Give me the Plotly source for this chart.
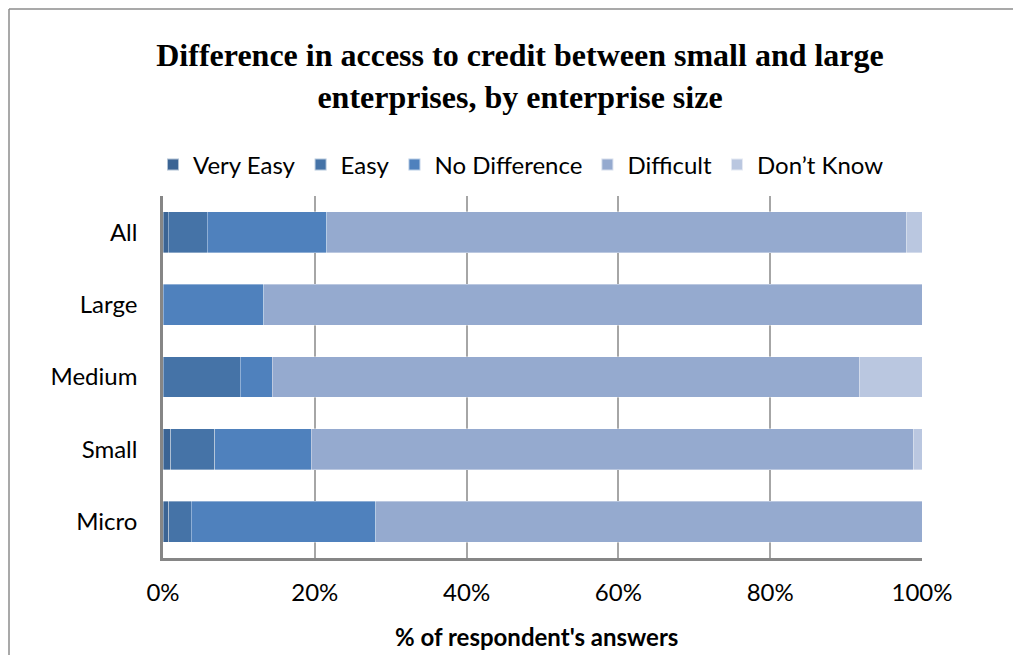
import plotly.graph_objects as go

categories = ["All", "Large", "Medium", "Small", "Micro"]
series_names = ["Very Easy", "Easy", "No Difference", "Difficult", "Don\u2019t Know"]
very_easy = [0.7, 0.0, 0.0, 1.05, 0.75]
easy = [5.1, 0.0, 10.2, 5.75, 3.0]
no_difference = [15.8, 13.3, 4.2, 12.7, 24.25]
difficult = [76.4, 86.7, 77.3, 79.4, 72.0]
dont_know = [2.0, 0.0, 8.3, 1.1, 0.0]
tick_vals = [0, 20, 40, 60, 80, 100]
tick_text = ["0%", "20%", "40%", "60%", "80%", "100%"]

colors = ["#3B6494", "#4573A7", "#4F81BD", "#95AACF", "#BAC7E0"]
values = [very_easy, easy, no_difference, difficult, dont_know]

# page body has an 8px margin; work in screen pixels and shift
OFF = 8
W, H = 1021 - OFF, 655 - OFF
L, R, T, B = 163 - OFF, 922 - OFF, 196 - OFF, 558 - OFF


def px_x(x):
    return ((x - OFF) - L) / (R - L)


def px_y(y):
    return (B - (y - OFF)) / (B - T)


fig = go.Figure()
for name, vals, col in zip(series_names, values, colors):
    fig.add_trace(go.Bar(
        y=categories, x=vals, name=name, orientation="h",
        marker=dict(color=col, line=dict(color="rgba(255,255,255,0.6)", width=0.6)),
        width=0.566,
    ))

font_main = "Lato, 'Open Sans', sans-serif"

fig.update_layout(
    width=W, height=H,
    barmode="stack",
    plot_bgcolor="white", paper_bgcolor="white",
    margin=dict(l=L, r=W - R, t=T, b=H - B, pad=0),
    title=dict(
        text="<b>Difference in access to credit between small and large<br>enterprises, by enterprise size</b>",
        x=(520 - OFF) / W, xanchor="center", y=1 - (66 - OFF) / H, yanchor="middle",
        font=dict(family="'Liberation Serif', 'Times New Roman', serif", size=32, color="black"),
    ),
    legend=dict(
        orientation="h", x=px_x(153), xanchor="left", y=px_y(165), yanchor="middle",
        font=dict(family=font_main, size=24, color="black"),
        traceorder="normal", itemsizing="constant", itemwidth=30,
        bgcolor="rgba(0,0,0,0)",
    ),
    xaxis=dict(
        range=[0, 100], tickvals=tick_vals, ticktext=tick_text,
        showgrid=True, gridcolor="#A6A6A6", gridwidth=1.5,
        showline=True, linecolor="#868686", linewidth=2.5,
        zeroline=False, ticks="", ticklabelstandoff=11,
        tickfont=dict(family=font_main, size=24, color="black"),
        mirror=False,
    ),
    yaxis=dict(
        categoryorder="array", categoryarray=categories, autorange="reversed",
        showline=True, linecolor="#868686", linewidth=2.5,
        showgrid=False, ticks="", ticklabelstandoff=18,
        tickfont=dict(family=font_main, size=24, color="black"),
    ),
    showlegend=True,
    annotations=[dict(
        text="<b>% of respondent's answers</b>", xref="paper", yref="paper",
        x=px_x(536), y=px_y(636), xanchor="center", yanchor="middle",
        showarrow=False, font=dict(family=font_main, size=24, color="black"),
    )],
    shapes=[
        dict(type="line", xref="paper", yref="paper",
             x0=px_x(9), x1=px_x(9), y0=px_y(9), y1=px_y(700),
             line=dict(color="#8C8C8C", width=1.5)),
        dict(type="line", xref="paper", yref="paper",
             x0=px_x(9), x1=px_x(1100), y0=px_y(9), y1=px_y(9),
             line=dict(color="#8C8C8C", width=1.5)),
    ],
)

fig.write_html("out.html")
